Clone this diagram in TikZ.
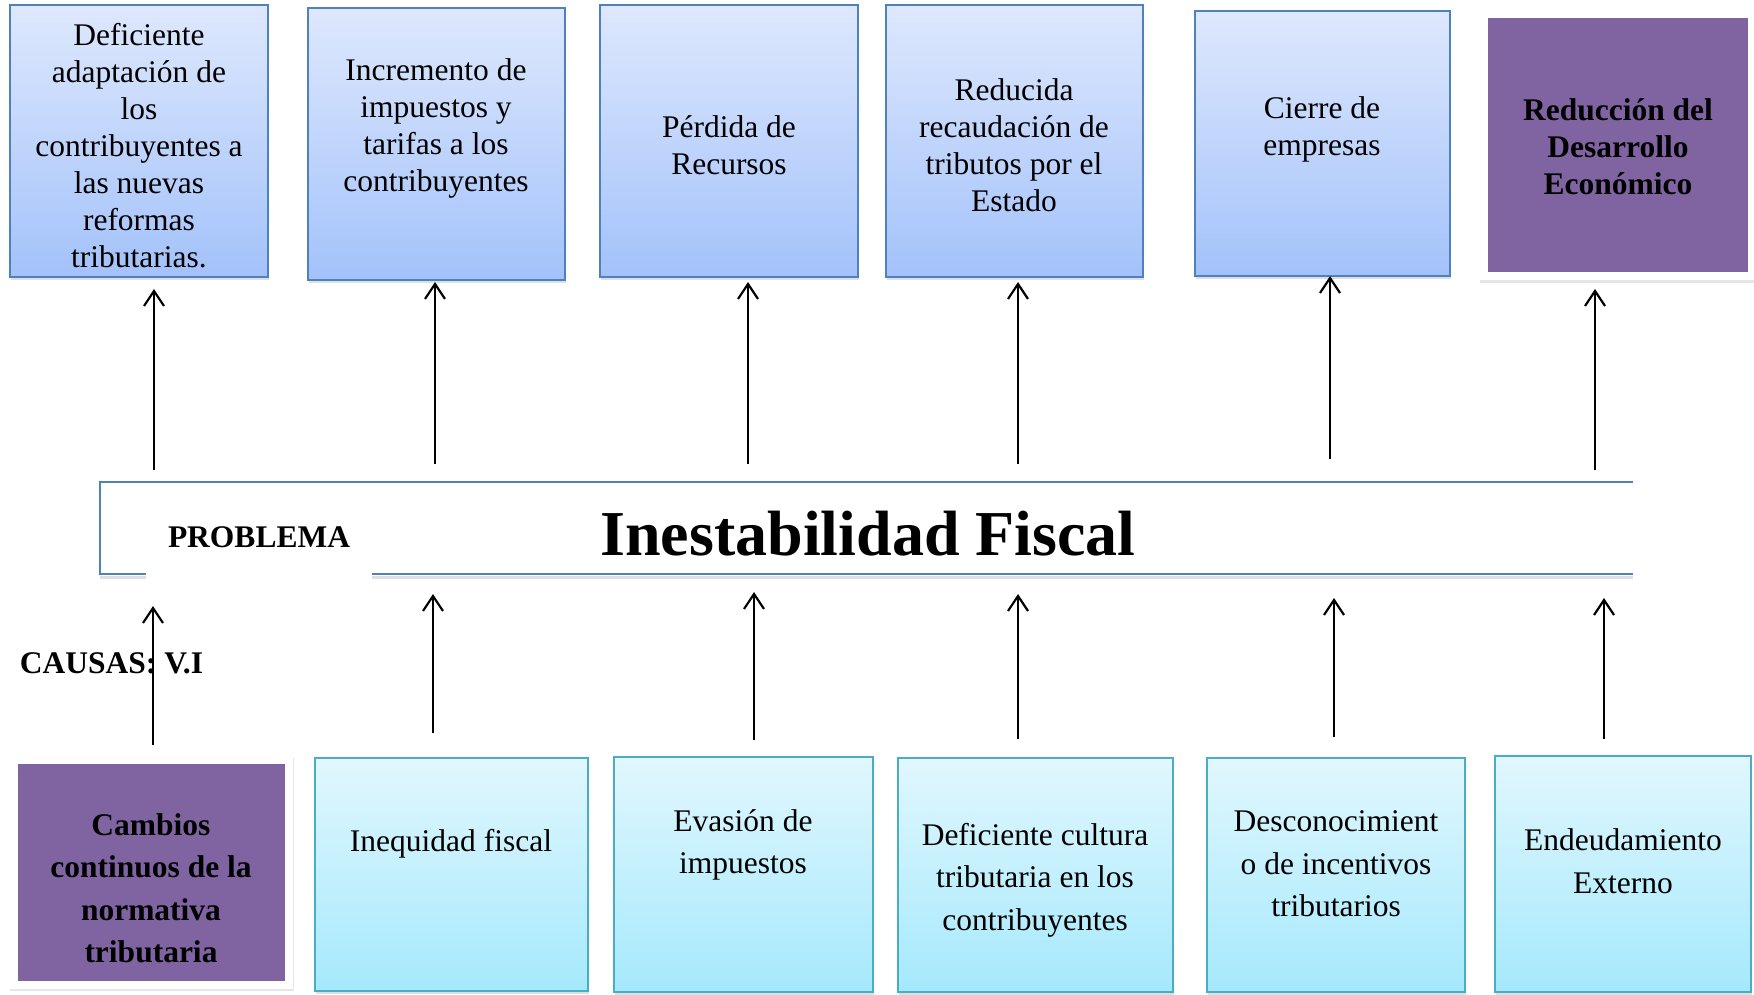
\documentclass[tikz,border=0pt]{standalone}
\usepackage{fontspec}
\setmainfont{Liberation Serif}
\usetikzlibrary{arrows.meta}
\usetikzlibrary{shadows}

\definecolor{efArriba}{HTML}{DEE8FD}
\definecolor{efAbajo}{HTML}{A3C2FA}
\definecolor{efBorde}{HTML}{4F81BD}
\definecolor{caArriba}{HTML}{E1F7FE}
\definecolor{caAbajo}{HTML}{A5E9FC}
\definecolor{caBorde}{HTML}{4BACC6}
\definecolor{morado}{HTML}{8064A2}

\begin{document}
\begin{tikzpicture}
      [x=1pt,y=-1pt,
        efecto/.style={draw=efBorde,line width=2pt,top color=efArriba,bottom color=efAbajo,
          drop shadow={shadow xshift=1pt,shadow yshift=-3pt,opacity=0.25}},
        causa/.style={draw=caBorde,line width=2pt,top color=caArriba,bottom color=caAbajo,
          drop shadow={shadow xshift=1pt,shadow yshift=-3pt,opacity=0.25}},
        clave/.style={draw=white,line width=8pt,fill=morado,
          drop shadow={shadow scale=1.035,shadow xshift=1pt,shadow yshift=-2pt,opacity=0.2}},
        arriba/.style={font=\fontsize{31.5}{37}\selectfont,align=center,inner sep=0pt},
        abajo/.style={font=\fontsize{31.5}{42.5}\selectfont,align=center,inner sep=0pt},
        flecha/.style={line width=2.2pt,-{Straight Barb[length=15pt,width=20pt]}}]
  \useasboundingbox (0,0) rectangle (1754,994);

  % efectos
  \node[efecto,minimum width=258,minimum height=272] (e1) at (139,141) {};
  \node[efecto,minimum width=257,minimum height=272] (e2) at (436,144) {};
  \node[efecto,minimum width=258,minimum height=272] (e3) at (729,141) {};
  \node[efecto,minimum width=257,minimum height=272] (e4) at (1014,141) {};
  \node[efecto,minimum width=255,minimum height=265] (e5) at (1322,143) {};
  \node[clave,minimum width=268,minimum height=262] (e6) at (1618,145) {};
  \node[arriba] (te1) at (139,146) {Deficiente\\adaptación de\\los\\contribuyentes a\\las nuevas\\reformas\\tributarias.};
  \node[arriba] (te2) at (436,128) {Incremento de\\impuestos y\\tarifas a los\\contribuyentes};
  \node[arriba] (te3) at (729,145) {Pérdida de\\Recursos};
  \node[arriba] (te4) at (1014,145) {Reducida\\recaudación de\\tributos por el\\Estado};
  \node[arriba] (te5) at (1322,129) {Cierre de\\empresas};
  \node[arriba,font=\fontsize{31.5}{37}\selectfont\bfseries] (te6) at (1618,147) {Reducción del\\Desarrollo\\Económico};

  % problema
  \node[minimum width=1533,minimum height=92] (prob) at (866.5,528) {};
  \draw[gray!25,line width=3pt] ([yshift=-3pt]prob.south west) -- ([yshift=-3pt]prob.south east);
  \draw[efBorde,line width=2.5pt] (prob.north east) -- (prob.north west)
    -- (prob.south west) -- (prob.south east);
  \node[fill=white,minimum width=226,minimum height=86,font=\fontsize{31.5}{37}\selectfont\bfseries] (etiq) at (259,537) {PROBLEMA};
  \node[font=\fontsize{64}{70}\selectfont\bfseries,inner sep=0pt] (tema) at (868,534) {Inestabilidad Fiscal};
  \node[font=\fontsize{31.5}{37}\selectfont\bfseries,inner sep=0pt] (vi) at (111.5,663) {CAUSAS: V.I};

  % causas
  \node[clave,minimum width=275,minimum height=225] (c1) at (151,872) {};
  \node[causa,minimum width=273,minimum height=233] (c2) at (451.5,874.5) {};
  \node[causa,minimum width=259,minimum height=235] (c3) at (743.5,874.5) {};
  \node[causa,minimum width=275,minimum height=234] (c4) at (1035.5,875) {};
  \node[causa,minimum width=258,minimum height=234] (c5) at (1336,875) {};
  \node[causa,minimum width=256,minimum height=236] (c6) at (1623,874) {};
  \node[abajo,font=\fontsize{31.5}{42.5}\selectfont\bfseries] (tc1) at (151,888) {Cambios\\continuos de la\\normativa\\tributaria};
  \node[abajo] (tc2) at (451,844) {Inequidad fiscal};
  \node[abajo] (tc3) at (743,845) {Evasión de\\impuestos};
  \node[abajo] (tc4) at (1035,880) {Deficiente cultura\\tributaria en los\\contribuyentes};
  \node[abajo] (tc5) at (1336,864) {Desconocimient\\o de incentivos\\tributarios};
  \node[abajo] (tc6) at (1623,861) {Endeudamiento\\Externo};

  % flechas
  \foreach \n/\x/\ya/\yb in {1/154/470/289,2/435/464/282,3/748/464/282,
      4/1018/464/282,5/1330/459/276,6/1595/470/289} {
    \coordinate (pe\n) at (\x,\ya);
    \coordinate (ee\n) at (\x,\yb);
    \draw[flecha] (pe\n) -- (ee\n);
  }
  \foreach \n/\x/\ya/\yb in {1/153/745/606,2/433/733/594,3/754/740/592,
      4/1018/739/594,5/1334/737/598,6/1604/739/598} {
    \coordinate (cc\n) at (\x,\ya);
    \coordinate (pc\n) at (\x,\yb);
    \draw[flecha] (cc\n) -- (pc\n);
  }
\end{tikzpicture}
\end{document}
